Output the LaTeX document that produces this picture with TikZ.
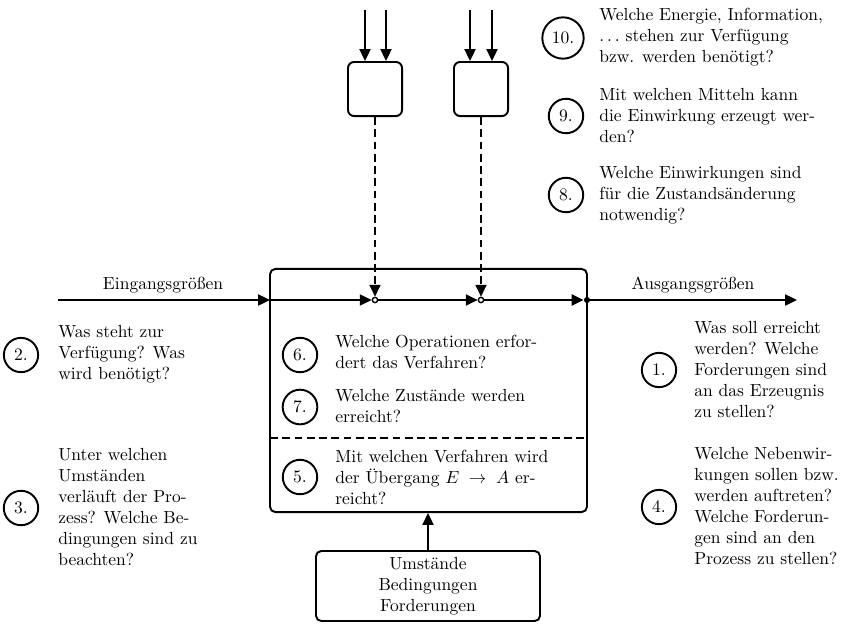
\documentclass[tikz,border=0pt]{standalone}
\usepackage{fontspec}
\usetikzlibrary{arrows.meta}
\begin{document}
\begin{tikzpicture}[x=0.5714pt,y=-0.5714pt,
  ln/.style={line width=1.1pt},
  arr/.style={ln,-{Triangle[length=6.8pt,width=6.3pt]}},
  dsh/.style={dash pattern=on 4.5pt off 2.5pt},
  num/.style={circle,draw,line width=1.1pt,inner sep=3.3pt,minimum size=0pt},
  q/.style={align=left,inner sep=0pt,anchor=west},
  boxst/.style={draw,line width=1.1pt,rounded corners=3pt,inner sep=0pt},
  jc/.style={circle,draw,fill=white,line width=0.8pt,inner sep=0pt,minimum size=3pt},
  jd/.style={circle,fill=black,inner sep=0pt,minimum size=3.5pt}]
\useasboundingbox (0,0) rectangle (849,624);
% main box
\node[boxst,minimum width=181.1pt,minimum height=138.9pt] (main) at (428.5,390.5) {};
% top boxes
\node[boxst,rounded corners=3.5pt,minimum width=30.9pt,minimum height=30.9pt] (t1) at (375,89) {};
\node[boxst,rounded corners=3.5pt,minimum width=30.9pt,minimum height=30.9pt] (t2) at (481,89) {};
% bottom box
\node[boxst,minimum width=128pt,minimum height=40pt,align=center] (bb) at (428,586) {Umstände\\Bedingungen\\Forderungen};
% main flow
\coordinate (in) at (58,300);
\coordinate (out) at (797,300);
\coordinate (e0) at (270,300);
\node[jc] (j1) at (375,300) {};
\node[jc] (j2) at (481,300) {};
\node[jd] (j3) at (587,300) {};
\draw[arr] (in) -- (e0);
\draw[arr] (e0) -- (j1);
\draw[arr] (j1) -- (j2);
\draw[arr] (j2) -- (j3);
\draw[arr] (j3) -- (out);
% top inputs
\coordinate (a1) at (365,10);
\coordinate (a2) at (386,10);
\coordinate (a3) at (470,10);
\coordinate (a4) at (492,10);
\draw[arr] (a1) -- (a1 |- t1.north);
\draw[arr] (a2) -- (a2 |- t1.north);
\draw[arr] (a3) -- (a3 |- t2.north);
\draw[arr] (a4) -- (a4 |- t2.north);
\draw[arr,dsh] (t1.south) -- (j1);
\draw[arr,dsh] (t2.south) -- (j2);
% dashed separator
\coordinate (s0) at (270,438);
\coordinate (s1) at (587,438);
\draw[ln,dsh] (s0) -- (s1);
% bottom arrow
\draw[arr] (bb.north) -- (bb.north |- main.south);
% labels
\node (ein) at (163,285) {Eingangsgrößen};
\node (aus) at (693,285) {Ausgangsgrößen};
% numbered questions
\node[num] (n10) at (563,38) {10.};
\node[q] (q10) at (599,37) {Welche Energie, Information,\\$\ldots$ stehen zur Verfügung\\bzw. werden benötigt?};
\node[num] (n9) at (566,116) {9.};
\node[q] (q9) at (599,116) {Mit welchen Mitteln kann\\die Einwirkung erzeugt wer-\\den?};
\node[num] (n8) at (566,195) {8.};
\node[q] (q8) at (599,195) {Welche Einwirkungen sind\\für die Zustandsänderung\\notwendig?};
\node[num] (n2) at (21,355) {2.};
\node[q] (q2) at (58,354) {Was steht zur\\Verfügung? Was\\wird benötigt?};
\node[num] (n3) at (21,508) {3.};
\node[q] (q3) at (58,507) {Unter welchen\\Umständen\\verläuft der Pro-\\zess? Welche Be-\\dingungen sind zu\\beachten?};
\node[num] (n6) at (300,355) {6.};
\node[q] (q6) at (335,352) {Welche Operationen erfor-\\dert das Verfahren?};
\node[num] (n7) at (300,407) {7.};
\node[q] (q7) at (335,406) {Welche Zustände werden\\erreicht?};
\node[num] (n5) at (300,477) {5.};
\node[q] (q5) at (335,477) {Mit welchen Verfahren wird\\der Übergang $E\;\to\;A$ er-\\reicht?};
\node[num] (n1) at (659,370) {1.};
\node[q] (q1) at (694,370) {Was soll erreicht\\werden? Welche\\Forderungen sind\\an das Erzeugnis\\zu stellen?};
\node[num] (n4) at (659,507) {4.};
\node[q] (q4) at (694,506) {Welche Nebenwir-\\kungen sollen bzw.\\werden auftreten?\\Welche Forderun-\\gen sind an den\\Prozess zu stellen?};
\end{tikzpicture}
\end{document}
